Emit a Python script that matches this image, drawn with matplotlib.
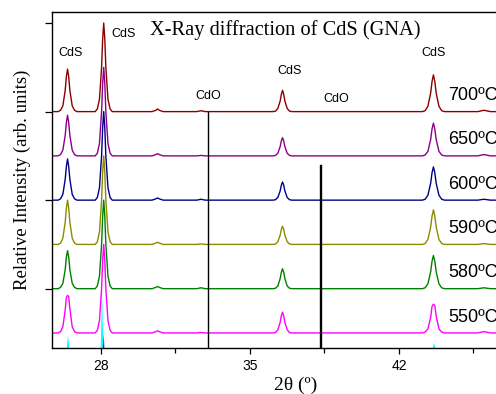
import matplotlib.pyplot as plt
import numpy as np

# 2theta sample points shared by all patterns
two_theta = [25.70,
             25.99, 26.10, 26.21, 26.32, 26.375, 26.43, 26.485, 26.54, 26.65, 26.76, 26.87,
             27.73, 27.83, 27.93, 28.03, 28.08, 28.13, 28.18, 28.23, 28.33, 28.43, 28.53,
             30.40, 30.58, 30.66, 30.74, 30.92,
             32.50, 32.70, 32.90,
             36.09, 36.20, 36.31, 36.42, 36.475, 36.53, 36.585, 36.64, 36.75, 36.86, 36.97,
             43.10, 43.23, 43.36, 43.49, 43.555, 43.62, 43.685, 43.75, 43.88, 44.01, 44.14,
             45.70, 46.00, 46.30, 46.56]

# intensities above each pattern's own baseline (baseline spacing = 1)
i_700 = [0,
         0, 0.03, 0.13, 0.48, 0.79, 0.96, 0.79, 0.48, 0.13, 0.03, 0,
         0, 0.06, 0.28, 1.00, 1.64, 2.00, 1.64, 1.00, 0.28, 0.06, 0,
         0, 0.03, 0.06, 0.03, 0,
         0, 0.02, 0,
         0, 0.01, 0.07, 0.24, 0.39, 0.48, 0.39, 0.24, 0.07, 0.01, 0,
         0, 0.02, 0.12, 0.42, 0.68, 0.83, 0.68, 0.42, 0.12, 0.02, 0,
         0, 0.03, 0, 0]
i_650 = [0,
         0, 0.03, 0.13, 0.46, 0.75, 0.92, 0.75, 0.46, 0.13, 0.03, 0,
         0, 0.06, 0.28, 1.00, 1.64, 2.00, 1.64, 1.00, 0.28, 0.06, 0,
         0, 0.03, 0.05, 0.03, 0,
         0, 0.01, 0,
         0, 0.01, 0.06, 0.21, 0.34, 0.41, 0.34, 0.21, 0.06, 0.01, 0,
         0, 0.02, 0.10, 0.37, 0.61, 0.74, 0.61, 0.37, 0.10, 0.02, 0,
         0, 0.03, 0, 0]
i_600 = [0,
         0, 0.03, 0.13, 0.47, 0.76, 0.93, 0.76, 0.47, 0.13, 0.03, 0,
         0, 0.06, 0.28, 1.00, 1.64, 2.00, 1.64, 1.00, 0.28, 0.06, 0,
         0, 0.03, 0.05, 0.03, 0,
         0, 0.02, 0,
         0, 0.01, 0.06, 0.21, 0.34, 0.41, 0.34, 0.21, 0.06, 0.01, 0,
         0, 0.02, 0.11, 0.38, 0.62, 0.75, 0.62, 0.38, 0.11, 0.02, 0,
         0, 0.02, 0, 0]
i_590 = [0,
         0, 0.03, 0.14, 0.50, 0.82, 1.00, 0.82, 0.50, 0.14, 0.03, 0,
         0, 0.06, 0.28, 1.00, 1.64, 2.00, 1.64, 1.00, 0.28, 0.06, 0,
         0, 0.03, 0.05, 0.03, 0,
         0, 0.01, 0,
         0, 0.01, 0.06, 0.21, 0.34, 0.41, 0.34, 0.21, 0.06, 0.01, 0,
         0, 0.02, 0.11, 0.39, 0.64, 0.78, 0.64, 0.39, 0.11, 0.02, 0,
         0, 0.02, 0, 0]
i_580 = [0,
         0, 0.03, 0.12, 0.43, 0.71, 0.86, 0.71, 0.43, 0.12, 0.03, 0,
         0, 0.06, 0.28, 1.00, 1.64, 2.00, 1.64, 1.00, 0.28, 0.06, 0,
         0, 0.03, 0.05, 0.03, 0,
         0, 0.02, 0,
         0, 0.01, 0.06, 0.23, 0.37, 0.45, 0.37, 0.23, 0.06, 0.01, 0,
         0, 0.02, 0.11, 0.38, 0.62, 0.75, 0.62, 0.38, 0.11, 0.02, 0,
         0, 0.02, 0, 0]
i_550 = [0,
         0, 0.03, 0.14, 0.52, 0.80, 0.85, 0.82, 0.55, 0.14, 0.03, 0,
         0, 0.06, 0.28, 1.00, 1.64, 2.00, 1.64, 1.00, 0.28, 0.06, 0,
         0, 0.03, 0.05, 0.03, 0,
         0, 0.01, 0,
         0, 0.01, 0.07, 0.24, 0.39, 0.47, 0.39, 0.24, 0.07, 0.01, 0,
         0, 0.02, 0.09, 0.35, 0.60, 0.65, 0.62, 0.38, 0.09, 0.02, 0,
         0, 0.03, 0, 0]

temps = ['700ºC', '650ºC', '600ºC', '590ºC', '580ºC', '550ºC']
patterns = [i_700, i_650, i_600, i_590, i_580, i_550]
offsets = [5, 4, 3, 2, 1, 0]
colors = ['#8B0000', '#8B008B', '#00008B', '#8B8B00', '#008000', '#FF00FF']

# CdO reference lines (position, top)
cdo_pos = [33.05, 38.34]
cdo_top = [5.0, 3.77]
cdo_lw = [1.0, 1.7]

# reference sticks at the bottom
ref_pos = [26.45, 28.05, 43.65]
ref_top = [-0.05, 0.97, -0.22]
ref2_pos = [28.13]
ref2_top = [0.0]

# peak annotations
ann_text = ['CdS', 'CdS', 'CdO', 'CdS', 'CdO', 'CdS']
ann_x = [26.56, 29.05, 33.04, 36.84, 39.05, 43.65]
ann_y = [6.32, 6.75, 5.35, 5.91, 5.28, 6.32]

sans = 'Liberation Sans'
serif = 'Liberation Serif'

fig = plt.figure(figsize=(4.96, 3.94), dpi=100)
ax = fig.add_axes([52 / 496, (394 - 348) / 394, 1 - 52 / 496, (348 - 12) / 394])

x = np.array(two_theta)
for y, off, c in zip(patterns, offsets, colors):
    ax.plot(x, np.array(y) + off, color=c, lw=1.0)

ymin, ymax = -0.34, 7.25
for p, t, lw in zip(cdo_pos, cdo_top, cdo_lw):
    ax.plot([p, p], [ymin, t], color='black', lw=lw)

for p, t in zip(ref_pos, ref_top):
    ax.fill([p - 0.06, p, p + 0.06], [ymin, t, ymin], color='#00FFFF', lw=0)
for p, t in zip(ref2_pos, ref2_top):
    ax.fill([p - 0.03, p, p + 0.03], [ymin, t, ymin], color='#0000FF', lw=0)

for s, tx, ty in zip(ann_text, ann_x, ann_y):
    ax.text(tx, ty, s, ha='center', va='center', fontsize=9, family=sans)

for s, off in zip(temps, offsets):
    ax.text(44.3, off + 0.36, s, ha='left', va='center', fontsize=13, family=sans)

fig.text(285 / 496, 1 - 30 / 394, 'X-Ray diffraction of CdS (GNA)',
         ha='center', va='center', fontsize=14.7, family=serif)

ax.set_xlim(25.7, 46.56)
ax.set_ylim(ymin, ymax)
ax.set_xticks([28, 35, 42])
ax.set_xticks([31.5, 38.5, 45.5], minor=True)
ax.set_yticks([1, 3, 5, 7])
ax.set_yticklabels([])
ax.tick_params(axis='x', which='major', direction='out', length=4, width=0.9,
               labelsize=10, pad=4)
ax.tick_params(axis='x', which='minor', direction='out', length=3.5, width=0.9)
ax.tick_params(axis='y', direction='out', length=5, width=0.9)
for lbl in ax.get_xticklabels():
    lbl.set_family(sans)
ax.spines['right'].set_visible(False)
for sp in ['left', 'top', 'bottom']:
    ax.spines[sp].set_linewidth(1.0)

ax.set_xlabel('2θ (º)', family=serif, fontsize=14, va='center')
ax.xaxis.set_label_coords((296 - 52) / 444, (348 - 385) / 336)
ax.set_ylabel('Relative Intensity (arb. units)', family=serif, fontsize=13.5, va='center')
ax.yaxis.set_label_coords((22 - 52) / 444, 0.5)

fig.savefig('out.png', dpi=100)
